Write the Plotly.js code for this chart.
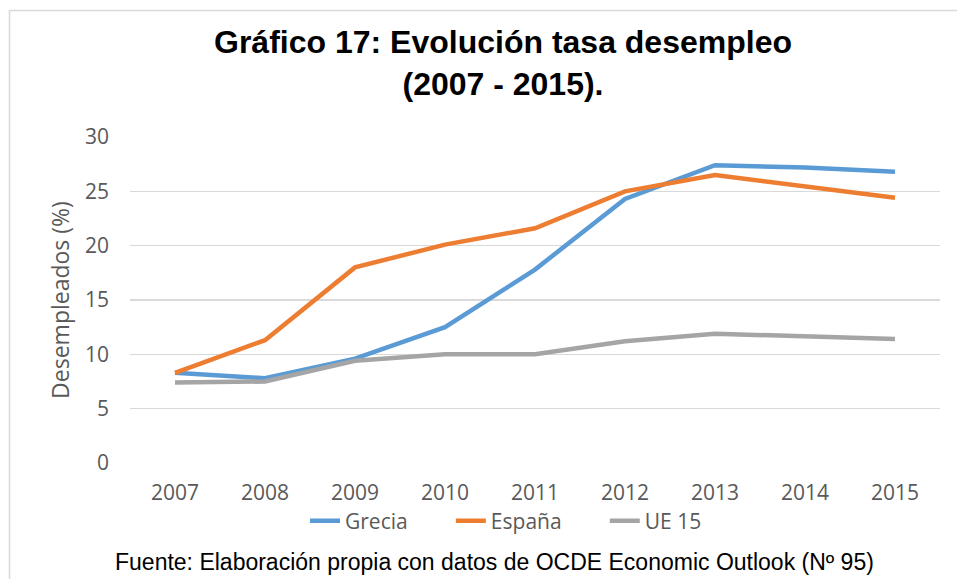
<!DOCTYPE html>
<html>
<head>
<meta charset="utf-8">
<script src="https://cdn.plot.ly/plotly-3.0.1.min.js"></script>
<style>html,body{margin:0;padding:0;background:#fff;}#chart{width:957px;height:579px;}</style>
</head>
<body>
<div id="chart"></div>
<script>
const years = ["2007","2008","2009","2010","2011","2012","2013","2014","2015"];
const grecia = [8.3, 7.8, 9.6, 12.5, 17.8, 24.3, 27.4, 27.2, 26.8];
const espana = [8.3, 11.3, 18.0, 20.1, 21.6, 25.0, 26.5, 25.5, 24.4];
const ue15 = [7.4, 7.5, 9.4, 10.0, 10.0, 11.2, 11.9, 11.7, 11.4];
const yTicks = [0, 5, 10, 15, 20, 25, 30];

const W = 957, H = 579;
const L = 130, R = 940, T = 137, B = 463;
const px2x = p => (p - L) / (R - L);
const px2y = p => (B - p) / (B - T);
const PAD = '\u00a0'.repeat(7);

const mk = (name, y, color, pad) => ({
  type: 'scatter', mode: 'lines', name: name + pad, x: years, y: y,
  line: {color: color, width: 4.5}
});

const data = [
  mk('Grecia', grecia, '#5B9BD5', PAD),
  mk('España', espana, '#ED7D31', PAD),
  mk('UE 15', ue15, '#A5A5A5', '')
];

const layout = {
  width: W, height: H,
  margin: {l: L, r: W - R, t: T, b: H - B, pad: 0},
  paper_bgcolor: '#fff', plot_bgcolor: '#fff',
  showlegend: true,
  title: {
    text: '<b>Gráfico 17: Evolución tasa desempleo<br>(2007 - 2015).</b>',
    font: {family: 'Liberation Sans, Arial, sans-serif', size: 32, color: '#000'},
    xref: 'paper', x: px2x(503), xanchor: 'center',
    yref: 'container', y: 1 - 53/H, yanchor: 'middle'
  },
  xaxis: {
    type: 'category', tickvals: years, ticktext: years,
    showgrid: false, zeroline: false, showline: false,
    ticks: '', ticklabelstandoff: 15,
    tickfont: {family: 'Open Sans, sans-serif', size: 21, color: '#595959'},
    range: [-0.5, 8.5], fixedrange: true
  },
  yaxis: {
    range: [0, 30], tickvals: yTicks, ticktext: yTicks.map(String),
    showgrid: true, gridcolor: '#D9D9D9', gridwidth: 1.3,
    zeroline: false, showline: false, ticks: '', ticklabelstandoff: 20,
    tickfont: {family: 'Open Sans, sans-serif', size: 21, color: '#595959'},
    title: {text: 'Desempleados (%)', standoff: 8,
      font: {family: 'Open Sans, sans-serif', size: 23, color: '#595959'}},
    fixedrange: true
  },
  legend: {
    orientation: 'h', x: px2x(305), xanchor: 'left',
    y: px2y(521), yanchor: 'middle',
    font: {family: 'Open Sans, sans-serif', size: 21, color: '#595959'},
    bgcolor: 'rgba(0,0,0,0)'
  },
  shapes: [{
    type: 'rect', xref: 'paper', yref: 'paper',
    x0: px2x(9.5), x1: px2x(980), y0: px2y(10.5), y1: px2y(700),
    line: {color: '#D9D9D9', width: 1.5}, fillcolor: 'rgba(0,0,0,0)', layer: 'below'
  }],
  annotations: [{
    xref: 'paper', yref: 'paper', x: px2x(494), y: px2y(562),
    xanchor: 'center', yanchor: 'middle', showarrow: false,
    text: 'Fuente: Elaboración propia con datos de OCDE Economic Outlook (Nº 95)',
    font: {family: 'Liberation Sans, Arial, sans-serif', size: 23, color: '#000'}
  }]
};

Plotly.newPlot('chart', data, layout, {displayModeBar: false, staticPlot: true});
</script>
</body>
</html>
